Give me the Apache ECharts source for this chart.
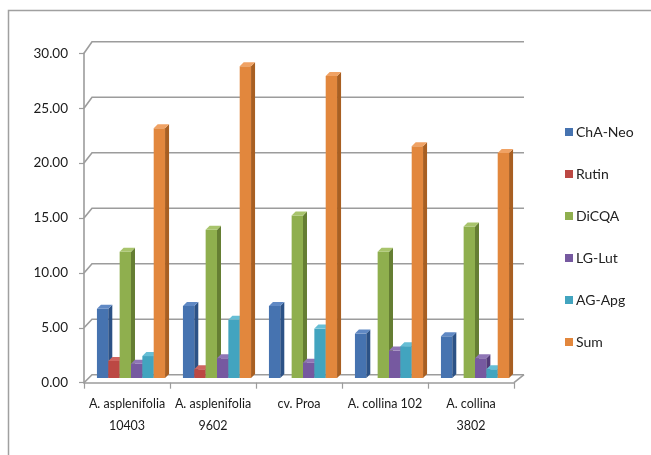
<!DOCTYPE html>
<html>
<head>
<meta charset="utf-8">
<script src="https://cdn.jsdelivr.net/npm/echarts@6/dist/echarts.min.js"></script>
<style>
  html, body { margin: 0; padding: 0; background: #fff; }
  #chart { width: 651px; height: 455px; }
</style>
</head>
<body>
<div id="chart"></div>
<script>
// Phenolic compound content per sample (3D clustered columns)
const categories = ['A. asplenifolia\n10403', 'A. asplenifolia\n9602', 'cv. Proa', 'A. collina 102', 'A. collina\n3802'];
const seriesNames = ['ChA-Neo', 'Rutin', 'DiCQA', 'LG-Lut', 'AG-Apg', 'Sum'];
const chaNeo = [6.3, 6.55, 6.55, 4.05, 3.8];
const rutin  = [1.55, 0.8, 0, 0, 0];
const diCQA  = [11.5, 13.5, 14.8, 11.5, 13.8];
const lgLut  = [1.3, 1.8, 1.4, 2.5, 1.8];
const agApg  = [2.0, 5.3, 4.5, 2.9, 0.8];
const sum    = [22.75, 28.4, 27.5, 21.1, 20.5];
const yTicks = [0, 5, 10, 15, 20, 25, 30];

const seriesValues = [chaNeo, rutin, diCQA, lgLut, agApg, sum];

// front / side / top face colours for each series
const palette = [
  { front: '#4673B0', side: '#2C5286', top: '#6089C4' },
  { front: '#BC4843', side: '#8A2F2B', top: '#CF6560' },
  { front: '#8FAF4E', side: '#657E33', top: '#A8C46C' },
  { front: '#7659A0', side: '#533A79', top: '#8F76B6' },
  { front: '#42A4BF', side: '#2A7C92', top: '#66BED5' },
  { front: '#E2873D', side: '#A85F22', top: '#F0A264' }
];

const FONT = 'Lato';
const BAR_DX = 4, BAR_DY = -4;     // bar depth
const MID_DX = 4, MID_DY = -4.7;   // bars stand halfway into the floor
const BAR_FRAC = 0.132;            // bar width as share of category width

function wallDepth(v) { return { dx: 8, dy: -8 - v * 0.12 }; }

function renderWall(params, api) {
  const v = api.value(0);
  const cs = params.coordSys;
  const y = api.coord([0, v])[1];
  const x0 = cs.x, x1 = cs.x + cs.width;
  const d = wallDepth(v);
  const style = { stroke: '#9c9c9c', lineWidth: 1.6, fill: null };
  const children = [{
    type: 'polyline',
    shape: { points: [[x0, y], [x0 + d.dx, y + d.dy], [x1 + d.dx + 2, y + d.dy]] },
    style: style
  }];
  if (v === 0) {
    children.push({
      type: 'line',
      shape: { x1: x1, y1: y, x2: x1 + d.dx + 2, y2: y + d.dy },
      style: style
    });
  }
  return { type: 'group', children: children };
}

function makeBarRenderer(idx) {
  const col = palette[idx];
  return function (params, api) {
    const cat = api.value(0);
    const v = api.value(1);
    if (!(v > 0)) return null;
    const base = api.coord([cat, 0]);
    const topPt = api.coord([cat, v]);
    const catW = api.size([1, 0])[0];
    const w = catW * BAR_FRAC;
    const xl = base[0] - 3 * w + idx * w + MID_DX;
    const xr = xl + w;
    const yb = base[1] + MID_DY;
    const yt = topPt[1] + MID_DY;
    return {
      type: 'group',
      children: [
        { type: 'rect', shape: { x: xl, y: yt, width: w, height: yb - yt },
          style: { fill: col.front } },
        { type: 'polygon', shape: { points: [[xr, yt], [xr + BAR_DX, yt + BAR_DY], [xr + BAR_DX, yb + BAR_DY], [xr, yb]] },
          style: { fill: col.side } },
        { type: 'polygon', shape: { points: [[xl, yt], [xl + BAR_DX, yt + BAR_DY], [xr + BAR_DX, yt + BAR_DY], [xr, yt]] },
          style: { fill: col.top } }
      ]
    };
  };
}

const chart = echarts.init(document.getElementById('chart'), null, { renderer: 'canvas' });

const series = [{
  type: 'custom',
  name: 'wall',
  coordinateSystem: 'cartesian2d',
  renderItem: renderWall,
  data: yTicks.map(v => [v]),
  encode: { y: 0 },
  clip: false,
  silent: true,
  z: 1
}];

seriesNames.forEach((name, i) => {
  series.push({
    type: 'custom',
    name: name,
    coordinateSystem: 'cartesian2d',
    renderItem: makeBarRenderer(i),
    data: seriesValues[i].map((v, c) => [c, v]),
    encode: { x: 0, y: 1 },
    itemStyle: { color: palette[i].front },
    clip: false,
    z: 3
  });
});

chart.setOption({
  animation: false,
  backgroundColor: '#fff',
  color: palette.map(p => p.front),
  grid: { left: 84, right: 137, top: 53.3, bottom: 72.3, containLabel: false },
  legend: {
    data: seriesNames,
    orient: 'vertical',
    left: 560,
    top: 119,
    icon: 'rect',
    itemWidth: 8,
    itemHeight: 8,
    itemGap: 26,
    textStyle: { fontFamily: FONT, fontSize: 14, color: '#222', lineHeight: 16, padding: [0, 0, 0, -2] }
  },
  xAxis: {
    type: 'category',
    data: categories,
    boundaryGap: true,
    axisLine: { show: true, lineStyle: { color: '#9c9c9c', width: 1.6 } },
    axisTick: { show: true, length: 6, lineStyle: { color: '#9c9c9c', width: 1.2 } },
    axisLabel: { fontFamily: FONT, fontSize: 12.5, color: '#1a1a1a', lineHeight: 22, margin: 10, interval: 0 },
    splitLine: { show: false }
  },
  yAxis: {
    type: 'value',
    min: 0,
    max: 30,
    interval: 5,
    axisLine: { show: true, lineStyle: { color: '#9c9c9c', width: 1.6 } },
    axisTick: { show: true, length: 5, lineStyle: { color: '#9c9c9c', width: 1.2 } },
    axisLabel: { fontFamily: FONT, fontSize: 13.5, color: '#1a1a1a', margin: 16, formatter: v => v.toFixed(2) },
    splitLine: { show: false }
  },
  graphic: [{
    type: 'polyline',
    shape: { points: [[8.5, 455], [8.5, 10.5], [651, 10.5]] },
    style: { stroke: '#a0a0a0', lineWidth: 1.5, fill: null },
    silent: true
  }],
  series: series
});
</script>
</body>
</html>
